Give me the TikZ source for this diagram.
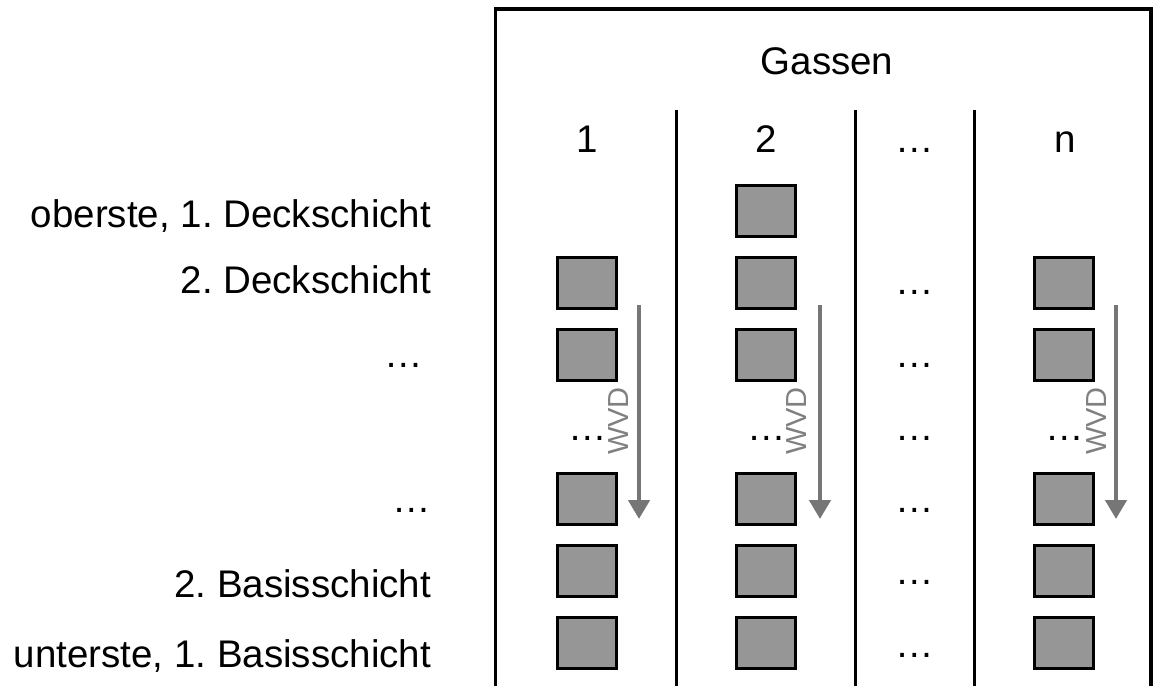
\documentclass[tikz,border=0pt]{standalone}
\usepackage{fontspec}
\setmainfont{Liberation Sans}
\usetikzlibrary{arrows.meta}
\definecolor{boxgray}{HTML}{969696}
\definecolor{arrgray}{HTML}{767676}
\definecolor{txtgray}{HTML}{808080}
\frenchspacing
\begin{document}
\begin{tikzpicture}[x=1pt,y=-1pt,
  txt/.style={font=\fontsize{38.5}{44}\selectfont\frenchspacing, inner sep=0pt, outer sep=0pt},
  lbl/.style={txt, anchor=base east},
  hdr/.style={txt, anchor=base},
  dotsnode/.style={txt, anchor=base},
  cell/.style={draw=black, fill=boxgray, line width=3pt, minimum width=59pt, minimum height=51pt, inner sep=0pt, outer sep=0pt},
  wvdtxt/.style={font=\fontsize{29}{34}\selectfont, text=txtgray, rotate=90, inner sep=0pt},
  wvdarrow/.style={draw=arrgray, line width=4.5pt, -{Triangle[length=19pt,width=21pt]}},
  frameline/.style={line width=3.2pt, line join=miter},
  sepline/.style={line width=3pt},
]
\useasboundingbox (0,0) rectangle (1154,686);

% frame and separators
\draw[frameline] (495.5,686) -- (495.5,9) -- (1151,9) -- (1151,686);
\draw[sepline] (676.5,110) -- (676.5,686);
\draw[sepline] (855,110) -- (855,686);
\draw[sepline] (974,110) -- (974,686);

% headers
\node[hdr] (gassen) at (827,74) {Gassen};
\node[hdr] (h1) at (587,152) {1};
\node[hdr] (h2) at (766,152) {2};
\node[hdr] (h3) at (915,152) {\dots};
\node[hdr] (hn) at (1065,152) {n};

% left labels
\node[lbl] (l0) at (431,227) {oberste, 1. Deckschicht};
\node[lbl] (l1) at (431,293) {2. Deckschicht};
\node[dotsnode] (l2) at (404,367) {\dots};
\node[dotsnode] (l4) at (412,512) {\dots};
\node[lbl] (l5) at (431,597) {2. Basisschicht};
\node[lbl] (l6) at (431,667) {unterste, 1. Basisschicht};

% boxes
\node[cell] (c2r0) at (766,211) {};
\foreach \col/\x in {1/587, 2/766, n/1064} {
  \foreach \row/\y in {1/283, 2/355, 4/499, 5/571, 6/643} {
    \node[cell] (c\col r\row) at (\x,\y) {};
  }
}

% middle column dots
\foreach \row/\y in {1/294, 2/367, 3/440, 4/512, 5/584, 6/657} {
  \node[dotsnode] (m\row) at (915,\y) {\dots};
}

% dots in the columns
\node[dotsnode] (d1) at (588,440) {\dots};
\node[dotsnode] (d2) at (767,440) {\dots};
\node[dotsnode] (dn) at (1065,440) {\dots};

% WVD arrows
\coordinate (a1s) at (639,305);
\coordinate (a1e) at (639,519);
\coordinate (a2s) at (820,305);
\coordinate (a2e) at (820,519);
\coordinate (ans) at (1116,305);
\coordinate (ane) at (1116,519);
\draw[wvdarrow] (a1s) -- (a1e);
\draw[wvdarrow] (a2s) -- (a2e);
\draw[wvdarrow] (ans) -- (ane);
\node[wvdtxt] (w1) at (619,421) {WVD};
\node[wvdtxt] (w2) at (797,421) {WVD};
\node[wvdtxt] (wn) at (1097,421) {WVD};
\end{tikzpicture}
\end{document}
